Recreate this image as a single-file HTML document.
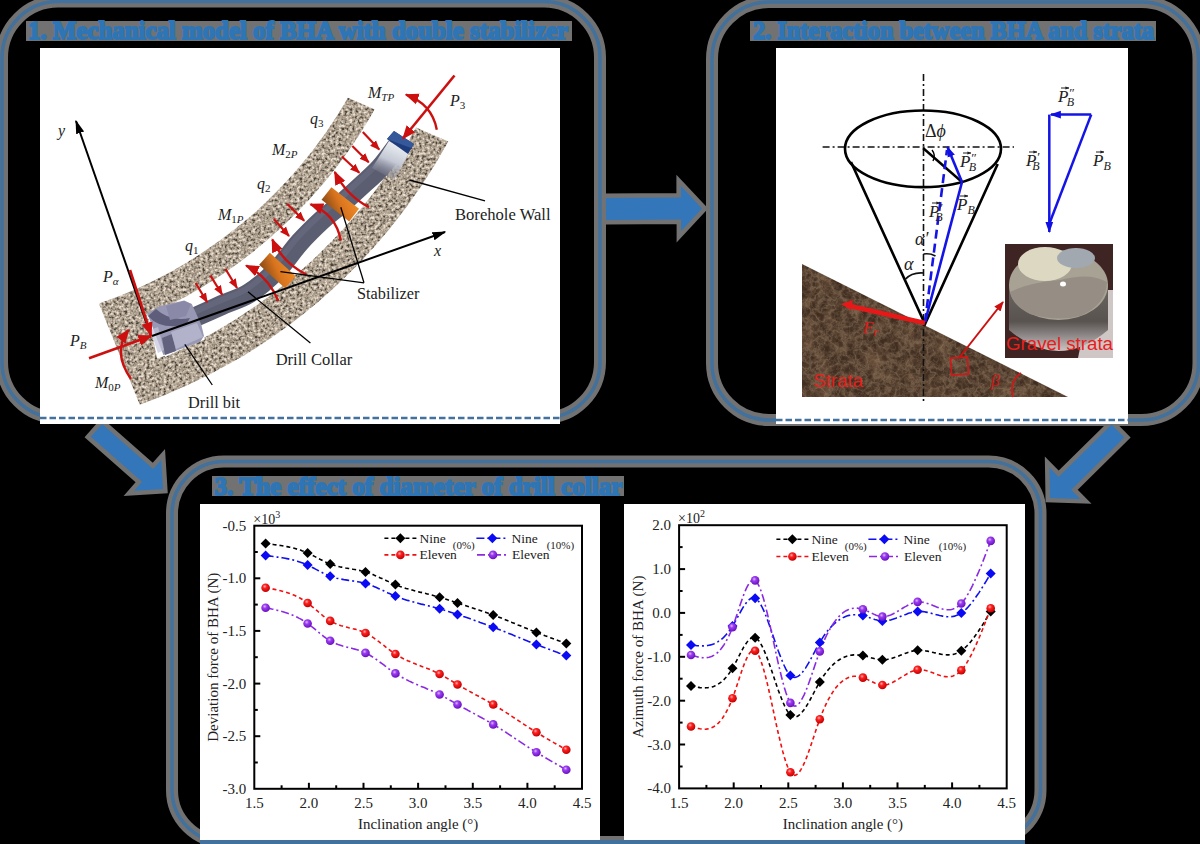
<!DOCTYPE html>
<html><head><meta charset="utf-8"><style>
html,body{margin:0;padding:0;background:#000;width:1200px;height:844px;overflow:hidden}
svg{display:block}
</style></head><body>
<svg width="1200" height="844" viewBox="0 0 1200 844">
<rect width="1200" height="844" fill="#000"/>
<defs>
<filter id="granite" filterUnits="userSpaceOnUse" x="90" y="90" width="370" height="320" color-interpolation-filters="sRGB">
  <feTurbulence type="fractalNoise" baseFrequency="0.36" numOctaves="2" seed="5" result="n"/>
  <feColorMatrix in="n" type="matrix" values="1 0 0 0 0  1 0 0 0 0  1 0 0 0 0  0 0 0 0 1" result="g"/>
  <feComponentTransfer in="g" result="g2">
    <feFuncR type="linear" slope="2.0" intercept="-0.5"/><feFuncG type="linear" slope="2.0" intercept="-0.5"/><feFuncB type="linear" slope="2.0" intercept="-0.5"/>
  </feComponentTransfer>
  <feComponentTransfer in="g2" result="c">
    <feFuncR type="table" tableValues="0.30 0.48 0.61 0.69 0.76 0.84 0.93"/>
    <feFuncG type="table" tableValues="0.27 0.44 0.56 0.64 0.71 0.79 0.89"/>
    <feFuncB type="table" tableValues="0.23 0.39 0.50 0.57 0.64 0.73 0.84"/>
  </feComponentTransfer>
  <feComposite in="c" in2="SourceAlpha" operator="in"/>
</filter>
<filter id="marble" filterUnits="userSpaceOnUse" x="800" y="260" width="270" height="140" color-interpolation-filters="sRGB">
  <feTurbulence type="fractalNoise" baseFrequency="0.06" numOctaves="2" seed="4" result="n2"/>
  <feColorMatrix in="n2" type="matrix" values="0 0 0 0 0.40  0 0 0 0 0.30  0 0 0 0 0.22  2.4 0 0 0 -1.1" result="v2"/>
  <feComposite in="v2" in2="SourceGraphic" operator="atop" result="b2"/>
  <feTurbulence type="fractalNoise" baseFrequency="0.09" numOctaves="4" seed="21" result="n"/>
  <feColorMatrix in="n" type="matrix" values="0 0 0 0 0.66  0 0 0 0 0.56  0 0 0 0 0.45  1 0 0 0 0" result="v"/>
  <feComponentTransfer in="v" result="vv"><feFuncA type="table" tableValues="0 0 0 0.02 0.1 0.38 0.12 0.02 0 0 0"/></feComponentTransfer>
  <feComposite in="vv" in2="b2" operator="atop" result="b3"/>
  <feTurbulence type="fractalNoise" baseFrequency="0.16" numOctaves="3" seed="8" result="m"/>
  <feColorMatrix in="m" type="matrix" values="0 0 0 0 0.62  0 0 0 0 0.52  0 0 0 0 0.42  1 0 0 0 0" result="w"/>
  <feComponentTransfer in="w" result="ww"><feFuncA type="table" tableValues="0 0 0 0 0.05 0.25 0.05 0 0 0 0"/></feComponentTransfer>
  <feComposite in="ww" in2="b3" operator="atop"/>
</filter>
<linearGradient id="orange" x1="0" y1="0" x2="1" y2="1">
  <stop offset="0" stop-color="#8a4a16"/><stop offset="0.5" stop-color="#d8741e"/><stop offset="1" stop-color="#f08a28"/>
</linearGradient>
<radialGradient id="redball" cx="0.4" cy="0.35" r="0.65">
  <stop offset="0" stop-color="#ffb0b0"/><stop offset="0.35" stop-color="#ff2020"/><stop offset="1" stop-color="#c00000"/>
</radialGradient>
<radialGradient id="purpball" cx="0.4" cy="0.35" r="0.65">
  <stop offset="0" stop-color="#e0b8ff"/><stop offset="0.35" stop-color="#9a3cf0"/><stop offset="1" stop-color="#6a10c0"/>
</radialGradient>
<linearGradient id="capg" x1="0" y1="0" x2="1" y2="0">
  <stop offset="0" stop-color="#2a4a8a"/><stop offset="1" stop-color="#1a3060"/>
</linearGradient>
<linearGradient id="cyl" x1="0" y1="0" x2="1" y2="0">
  <stop offset="0" stop-color="#5a5a60"/><stop offset="0.4" stop-color="#8a8a8e"/><stop offset="0.8" stop-color="#a09a98"/><stop offset="1" stop-color="#c8b8b8"/>
</linearGradient>
<marker id="ahR" viewBox="0 0 10 10" refX="9" refY="5" markerWidth="14" markerHeight="14" markerUnits="userSpaceOnUse" orient="auto"><path d="M0,1 L10,5 L0,9 Z" fill="#cc1010"/></marker>
<marker id="ahRs" viewBox="0 0 10 10" refX="9" refY="5" markerWidth="10" markerHeight="10" markerUnits="userSpaceOnUse" orient="auto"><path d="M0,1 L10,5 L0,9 Z" fill="#cc1010"/></marker>
<marker id="ahK" viewBox="0 0 10 10" refX="9" refY="5" markerWidth="14" markerHeight="14" markerUnits="userSpaceOnUse" orient="auto"><path d="M0,2 L10,5 L0,8 Z" fill="#000"/></marker>
<marker id="ahB" viewBox="0 0 10 10" refX="9" refY="5" markerWidth="11" markerHeight="11" markerUnits="userSpaceOnUse" orient="auto"><path d="M0,1.5 L10,5 L0,8.5 Z" fill="#1010e0"/></marker>
</defs>
<path d="M58,1.5 H544 A56,56 0 0 1 600,57.5 V362 A56,56 0 0 1 544,418 H58 A56,56 0 0 1 2,362 V57.5 A56,56 0 0 1 58,1.5 Z" fill="none" stroke="#727272" stroke-width="12"/>
<path d="M769,2 H1141.5 A57,57 0 0 1 1198.5,59 V363 A57,57 0 0 1 1141.5,420 H769 A57,57 0 0 1 712,363 V59 A57,57 0 0 1 769,2 Z" fill="none" stroke="#727272" stroke-width="12"/>
<path d="M224,461.5 H988.5 A52,52 0 0 1 1040.5,513.5 V790 A52,52 0 0 1 988.5,842 H224 A52,52 0 0 1 172,790 V513.5 A52,52 0 0 1 224,461.5 Z" fill="none" stroke="#727272" stroke-width="12"/>
<path d="M606.1,220 L681.1,219.6 L681.1,231.1 L702,208.5 L680.9,186.1 L680.9,197.6 L605.9,198 Z" fill="#727272" stroke="#727272" stroke-width="9" stroke-linejoin="miter"/>
<path d="M90.9,436.8 L142,481.8 L134.1,490.8 L163,489 L161.2,460.1 L153.2,469.1 L102.1,424 Z" fill="#727272" stroke="#727272" stroke-width="9" stroke-linejoin="miter"/>
<path d="M1111.7,424.6 L1058.6,476.9 L1049.5,467.6 L1050,498 L1080.4,498.9 L1071.3,489.7 L1124.3,437.4 Z" fill="#727272" stroke="#727272" stroke-width="9" stroke-linejoin="miter"/>
<rect x="26" y="21" width="546" height="20" fill="#727272"/>
<rect x="750" y="21" width="406" height="20" fill="#727272"/>
<rect x="212" y="476" width="412" height="20" fill="#727272"/>
<path d="M58,1.5 H544 A56,56 0 0 1 600,57.5 V362 A56,56 0 0 1 544,418 H58 A56,56 0 0 1 2,362 V57.5 A56,56 0 0 1 58,1.5 Z" fill="none" stroke="#41719c" stroke-width="3.5"/>
<path d="M769,2 H1141.5 A57,57 0 0 1 1198.5,59 V363 A57,57 0 0 1 1141.5,420 H769 A57,57 0 0 1 712,363 V59 A57,57 0 0 1 769,2 Z" fill="none" stroke="#41719c" stroke-width="3.5"/>
<path d="M224,461.5 H988.5 A52,52 0 0 1 1040.5,513.5 V790 A52,52 0 0 1 988.5,842 H224 A52,52 0 0 1 172,790 V513.5 A52,52 0 0 1 224,461.5 Z" fill="none" stroke="#41719c" stroke-width="3.5"/>
<path d="M606.1,220 L681.1,219.6 L681.1,231.1 L702,208.5 L680.9,186.1 L680.9,197.6 L605.9,198 Z" fill="#3476ba"/>
<path d="M90.9,436.8 L142,481.8 L134.1,490.8 L163,489 L161.2,460.1 L153.2,469.1 L102.1,424 Z" fill="#3476ba"/>
<path d="M1111.7,424.6 L1058.6,476.9 L1049.5,467.6 L1050,498 L1080.4,498.9 L1071.3,489.7 L1124.3,437.4 Z" fill="#3476ba"/>
<rect x="40" y="48" width="520" height="376" fill="#fff"/>
<rect x="776" y="48" width="352" height="376" fill="#fff"/>
<rect x="200" y="504" width="400" height="340" fill="#fff"/>
<rect x="624" y="504" width="401" height="340" fill="#fff"/>
<line x1="40" y1="418" x2="560" y2="418" stroke="#41719c" stroke-width="2.6" stroke-dasharray="6.5,3"/>
<line x1="776" y1="420" x2="1128" y2="420" stroke="#41719c" stroke-width="2.6" stroke-dasharray="6.5,3"/>
<line x1="200" y1="842" x2="1025" y2="842" stroke="#41719c" stroke-width="4"/>
<text x="28" y="39" font-family="Liberation Serif" font-weight="bold" font-size="25" fill="#2e75b6" stroke="#2e75b6" stroke-width="1.8" textLength="540" lengthAdjust="spacingAndGlyphs">1. Mechanical model of BHA with double stabilizer</text>
<text x="753" y="39" font-family="Liberation Serif" font-weight="bold" font-size="25" fill="#2e75b6" stroke="#2e75b6" stroke-width="1.8" textLength="401" lengthAdjust="spacingAndGlyphs">2. Interaction between BHA and strata</text>
<text x="214.5" y="494.5" font-family="Liberation Serif" font-weight="bold" font-size="25" fill="#2e75b6" stroke="#2e75b6" stroke-width="1.8" textLength="408" lengthAdjust="spacingAndGlyphs">3. The effect of diameter of drill collar</text>
<path d="M139.8,404.7 A567,567 0 0 0 448.3,141.6 L347.9,97.8 A458,458 0 0 1 98.9,303.5 Z" fill="#b3a99c" filter="url(#granite)"/>
<path d="M165.2,357 A532,532 0 0 0 419.4,121.6 L379.7,100.3 A487,487 0 0 1 147,315.8 Z" fill="#fff"/>
<path d="M147.7,313.3 L157.2,358.8 L205,339.6 L188.4,300.2 Z" fill="#fff"/>
<path d="M193,318 C197.8,315.8 212.6,309.2 222,305 C231.4,300.8 240.3,298.8 249.5,293 C258.7,287.2 268.6,278.5 277,270 C285.4,261.5 292.5,250.3 300,242 C307.5,233.7 315.3,226.2 322,220 C328.7,213.8 333.5,210.7 340,205 C346.5,199.3 354.3,192.2 361,186 C367.7,179.8 374,174.7 380,168 C386,161.3 394.2,149.7 397,146" fill="none" stroke="#5b5d70" stroke-width="20"/>
<path d="M190,314 C194.8,311.8 209.6,305.2 219,301 C228.4,296.8 237.3,294.8 246.5,289 C255.7,283.2 265.6,274.5 274,266 C282.4,257.5 289.5,246.3 297,238 C304.5,229.7 312.3,222.2 319,216 C325.7,209.8 330.5,206.7 337,201 C343.5,195.3 351.3,188.2 358,182 C364.7,175.8 371,170.7 377,164 C383,157.3 391.2,145.7 394,142" fill="none" stroke="#6e7086" stroke-width="6" opacity="0.5"/>
<defs><linearGradient id="tubetop" x1="0" y1="1" x2="0.4" y2="0"><stop offset="0" stop-color="#5b5d70" stop-opacity="0"/><stop offset="0.6" stop-color="#c4c8d4"/><stop offset="1" stop-color="#e8ecf0"/></linearGradient></defs>
<path d="M372,168 L389,141 L409,153 L394,180 Z" fill="url(#tubetop)"/>
<path d="M387,139 L394,131 L414,144 L408,154 Z" fill="#1e3c7c"/>
<path d="M387,139 L394,131 L414,144 L411,148 Z" fill="#35589a"/>
<path d="M147.3,313.4 L160,306 L184.2,300.6 L191.8,303.9 L201.3,324.8 L204,336 L200.3,341.8 L174.8,351.3 L163.4,355 L152,325.7 Z" fill="#9898b4"/>
<path d="M148,316 Q160,330 186,325 L190,318 Q170,322 156,309 Z" fill="#5e5e7a"/>
<path d="M162,338 L172,334 L176,351 L165,355 Z" fill="#62627e"/>
<path d="M171,332 L197,323 L203,337 L176,349 Z" fill="#b2b2ca"/>
<path d="M166,306 L184,301 L191,304 L186,316 L170,320 Z" fill="#8a8aa8"/>
<path d="M150,330 L158,327 L164,350 L158,353 Z" fill="#c4c4dc" opacity="0.7"/>
<rect x="-8" y="-17.5" width="16" height="35" fill="url(#orange)" transform="translate(277.5,270.5) rotate(-48)"/>
<rect x="-8" y="-17.5" width="16" height="35" fill="url(#orange)" transform="translate(340.3,204.3) rotate(-52)"/>
<line x1="195.6" y1="283" x2="207.2" y2="302.2" stroke="#cc1010" stroke-width="2.2" marker-end="url(#ahRs)"/>
<line x1="210.5" y1="275.6" x2="222.2" y2="294.7" stroke="#cc1010" stroke-width="2.2" marker-end="url(#ahRs)"/>
<line x1="225.5" y1="269" x2="237" y2="288" stroke="#cc1010" stroke-width="2.2" marker-end="url(#ahRs)"/>
<line x1="273.8" y1="218.9" x2="289" y2="236" stroke="#cc1010" stroke-width="2.2" marker-end="url(#ahRs)"/>
<line x1="287.1" y1="203.7" x2="304.2" y2="220.8" stroke="#cc1010" stroke-width="2.2" marker-end="url(#ahRs)"/>
<line x1="341.8" y1="156.5" x2="359.3" y2="172.8" stroke="#cc1010" stroke-width="2.2" marker-end="url(#ahRs)"/>
<line x1="352.3" y1="146" x2="368.7" y2="162.3" stroke="#cc1010" stroke-width="2.2" marker-end="url(#ahRs)"/>
<line x1="362.8" y1="132" x2="379.2" y2="149.5" stroke="#cc1010" stroke-width="2.2" marker-end="url(#ahRs)"/>
<path d="M278.4,301 Q268,276 246.2,265.7" fill="none" stroke="#cc1010" stroke-width="2.4" marker-end="url(#ahR)"/>
<path d="M306.6,274.8 Q282,262 272.3,239.5" fill="none" stroke="#cc1010" stroke-width="2.4" marker-end="url(#ahR)"/>
<path d="M340.8,240.5 Q336,214 310.6,204.3" fill="none" stroke="#cc1010" stroke-width="2.4" marker-end="url(#ahR)"/>
<path d="M369,207.3 Q346,195 334.8,172" fill="none" stroke="#cc1010" stroke-width="2.4" marker-end="url(#ahR)"/>
<path d="M436.8,129.7 Q432,104 406,94.7" fill="none" stroke="#cc1010" stroke-width="2.4" marker-end="url(#ahR)"/>
<path d="M131,379 Q112,352 128.5,330" fill="none" stroke="#cc1010" stroke-width="2.4" marker-end="url(#ahR)"/>
<line x1="151" y1="336" x2="76" y2="121" stroke="#000" stroke-width="2" marker-end="url(#ahK)"/>
<line x1="152" y1="336" x2="445" y2="232" stroke="#000" stroke-width="2" marker-end="url(#ahK)"/>
<line x1="130" y1="270" x2="151" y2="335" stroke="#cc1010" stroke-width="2.6" marker-end="url(#ahR)"/>
<line x1="89" y1="358.3" x2="151" y2="336" stroke="#cc1010" stroke-width="2.6" marker-end="url(#ahR)"/>
<line x1="454.5" y1="75.5" x2="403" y2="138.5" stroke="#cc1010" stroke-width="2.6" marker-end="url(#ahR)"/>
<line x1="409.5" y1="180" x2="485" y2="200.8" stroke="#000" stroke-width="1.3"/>
<line x1="364" y1="282.8" x2="280.4" y2="271.7" stroke="#000" stroke-width="1.3"/>
<line x1="364" y1="282.8" x2="340.8" y2="207.3" stroke="#000" stroke-width="1.3"/>
<line x1="248" y1="291.8" x2="310.4" y2="343" stroke="#000" stroke-width="1.3"/>
<line x1="184.8" y1="344.4" x2="212.3" y2="385" stroke="#000" stroke-width="1.3"/>
<text x="58" y="136" font-family="Liberation Serif" font-style="italic" font-size="16" fill="#222">y</text>
<text x="368" y="98" font-family="Liberation Serif" font-style="italic" font-size="16" fill="#222">M<tspan font-size="11" dy="3">T</tspan><tspan font-size="11" dy="0">P</tspan></text>
<text x="450" y="106" font-family="Liberation Serif" font-style="italic" font-size="16" fill="#222">P<tspan font-size="11" dy="3" font-style="normal">3</tspan></text>
<text x="310" y="124" font-family="Liberation Serif" font-style="italic" font-size="16" fill="#222">q<tspan font-size="11" dy="3" font-style="normal">3</tspan></text>
<text x="272" y="155" font-family="Liberation Serif" font-style="italic" font-size="16" fill="#222">M<tspan font-size="11" dy="3" font-style="normal">2</tspan><tspan font-size="11" dy="0">P</tspan></text>
<text x="257" y="189" font-family="Liberation Serif" font-style="italic" font-size="16" fill="#222">q<tspan font-size="11" dy="3" font-style="normal">2</tspan></text>
<text x="218" y="220" font-family="Liberation Serif" font-style="italic" font-size="16" fill="#222">M<tspan font-size="11" dy="3" font-style="normal">1</tspan><tspan font-size="11" dy="0">P</tspan></text>
<text x="185" y="251" font-family="Liberation Serif" font-style="italic" font-size="16" fill="#222">q<tspan font-size="11" dy="3" font-style="normal">1</tspan></text>
<text x="103" y="282" font-family="Liberation Serif" font-style="italic" font-size="16" fill="#222">P<tspan font-size="11" dy="3">α</tspan></text>
<text x="70" y="346" font-family="Liberation Serif" font-style="italic" font-size="16" fill="#222">P<tspan font-size="11" dy="3">B</tspan></text>
<text x="95" y="388" font-family="Liberation Serif" font-style="italic" font-size="16" fill="#222">M<tspan font-size="11" dy="3" font-style="normal">0</tspan><tspan font-size="11" dy="0">P</tspan></text>
<text x="434" y="256" font-family="Liberation Serif" font-style="italic" font-size="16" fill="#222">x</text>
<text x="455" y="219.5" font-family="Liberation Serif" font-size="16.5" fill="#222" textLength="95.6" lengthAdjust="spacingAndGlyphs">Borehole Wall</text>
<text x="357" y="299" font-family="Liberation Serif" font-size="16.5" fill="#222" textLength="62.3" lengthAdjust="spacingAndGlyphs">Stabilizer</text>
<text x="275.7" y="365" font-family="Liberation Serif" font-size="16.5" fill="#222">Drill Collar</text>
<text x="188" y="408" font-family="Liberation Serif" font-size="16.5" fill="#222" textLength="52" lengthAdjust="spacingAndGlyphs">Drill bit</text>
<path d="M802,264 L802,397 L1068,397 Z" fill="#3e2b1e" filter="url(#marble)"/>
<line x1="923.5" y1="74" x2="923.5" y2="403" stroke="#111" stroke-width="1.6" stroke-dasharray="7,3,2,3"/>
<line x1="822.6" y1="147" x2="1014" y2="147" stroke="#111" stroke-width="1.6" stroke-dasharray="7,3,2,3"/>
<ellipse cx="923" cy="148.8" rx="78" ry="38.3" fill="none" stroke="#000" stroke-width="2.6"/>
<path d="M851,162 L925,324 L997.7,164" fill="none" stroke="#000" stroke-width="2.6" stroke-linejoin="miter"/>
<line x1="923" y1="148" x2="962" y2="182" stroke="#000" stroke-width="2.4"/>
<path d="M932,150 Q936,155 933,161" fill="none" stroke="#000" stroke-width="1.4"/>
<line x1="925" y1="322" x2="962" y2="182" stroke="#1414e6" stroke-width="2.6"/>
<line x1="962" y1="182" x2="947.5" y2="147" stroke="#1414e6" stroke-width="2.6" marker-end="url(#ahB)"/>
<line x1="925" y1="322" x2="947" y2="150" stroke="#1414e6" stroke-width="2.6" stroke-dasharray="9,5"/>
<path d="M904.8,279.6 Q912,272 923.5,273" fill="none" stroke="#111" stroke-width="1.6"/>
<path d="M923.5,254 Q930,253 935.5,256" fill="none" stroke="#111" stroke-width="1.6"/>
<line x1="925" y1="323" x2="850" y2="306" stroke="#e81818" stroke-width="4.5"/>
<path d="M841,304 L853,300 L851,310 Z" fill="#e81818"/>
<rect x="951" y="357.5" width="17" height="17" fill="none" stroke="#d01818" stroke-width="1.6" transform="rotate(-4 960 366)"/>
<line x1="959" y1="358" x2="1003" y2="302" stroke="#cc1010" stroke-width="2" marker-end="url(#ahRs)"/>
<path d="M1021,373 Q1009,381 1013,397" fill="none" stroke="#d01818" stroke-width="1.8"/>
<line x1="1091.2" y1="114.6" x2="1051" y2="114.6" stroke="#1414e6" stroke-width="2.5" marker-end="url(#ahB)"/>
<line x1="1049.3" y1="114.6" x2="1049.3" y2="232" stroke="#1414e6" stroke-width="2.5" marker-end="url(#ahB)"/>
<line x1="1091.2" y1="114.6" x2="1050" y2="222" stroke="#1414e6" stroke-width="2.5"/>
<defs><linearGradient id="body" x1="0" y1="0" x2="0" y2="1"><stop offset="0" stop-color="#6a6560"/><stop offset="0.55" stop-color="#58534f"/><stop offset="0.75" stop-color="#8a8484"/><stop offset="1" stop-color="#cfc4c2"/></linearGradient></defs>
<rect x="1005" y="244" width="108" height="114" fill="#3e2422"/>
<path d="M1092,290 L1113,290 L1113,358 L1078,358 Z" fill="#cfc6c6"/>
<path d="M1009,285 L1009,330 Q1058.5,372 1108,330 L1108,285 Z" fill="url(#body)"/>
<ellipse cx="1058.5" cy="285" rx="49.5" ry="35" fill="#a8a294"/>
<ellipse cx="1045" cy="264" rx="27" ry="17" fill="#dcd8c2"/>
<ellipse cx="1076" cy="258" rx="19" ry="10" fill="#a2a8b0"/>
<path d="M1010,292 Q1030,282 1060,280 Q1090,272 1107,282 Q1106,305 1080,316 Q1058,322 1030,314 Q1012,305 1010,292 Z" fill="#968e84"/>
<ellipse cx="1063" cy="284" rx="3" ry="2.5" fill="#fff"/>
<defs><marker id="ahK2" viewBox="0 0 10 10" refX="9" refY="5" markerWidth="4" markerHeight="4" markerUnits="userSpaceOnUse" orient="auto"><path d="M0,1 L10,5 L0,9 Z" fill="#222"/></marker></defs>
<text x="1058" y="102" font-family="Liberation Serif" font-style="italic" font-size="17" fill="#222">P<tspan font-size="13" dy="-5" dx="0">″</tspan><tspan font-size="12" dy="9" dx="-7">B</tspan></text><line x1="1061" y1="88" x2="1069" y2="88" stroke="#222" stroke-width="1" marker-end="url(#ahK2)"/>
<text x="1026" y="166" font-family="Liberation Serif" font-style="italic" font-size="17" fill="#222">P<tspan font-size="13" dy="-5" dx="0">′</tspan><tspan font-size="12" dy="9" dx="-7">B</tspan></text><line x1="1029" y1="152" x2="1037" y2="152" stroke="#222" stroke-width="1" marker-end="url(#ahK2)"/>
<text x="1093" y="166" font-family="Liberation Serif" font-style="italic" font-size="17" fill="#222">P<tspan font-size="12" dy="4">B</tspan></text><line x1="1096" y1="152" x2="1104" y2="152" stroke="#222" stroke-width="1" marker-end="url(#ahK2)"/>
<text x="960" y="167" font-family="Liberation Serif" font-style="italic" font-size="17" fill="#222">P<tspan font-size="13" dy="-5" dx="0">″</tspan><tspan font-size="12" dy="9" dx="-7">B</tspan></text><line x1="963" y1="153" x2="971" y2="153" stroke="#222" stroke-width="1" marker-end="url(#ahK2)"/>
<text x="957" y="210" font-family="Liberation Serif" font-style="italic" font-size="17" fill="#222">P<tspan font-size="12" dy="4">B</tspan></text><line x1="960" y1="196" x2="968" y2="196" stroke="#222" stroke-width="1" marker-end="url(#ahK2)"/>
<text x="929" y="217" font-family="Liberation Serif" font-style="italic" font-size="17" fill="#222">P<tspan font-size="13" dy="-5" dx="0">′</tspan><tspan font-size="12" dy="9" dx="-7">B</tspan></text><line x1="932" y1="203" x2="940" y2="203" stroke="#222" stroke-width="1" marker-end="url(#ahK2)"/>
<text x="925" y="137" font-family="Liberation Serif" font-size="18" fill="#222">Δ<tspan font-style="italic">ϕ</tspan></text>
<text x="904" y="270" font-family="Liberation Serif" font-style="italic" font-size="18" fill="#222">α</text>
<text x="915" y="245" font-family="Liberation Serif" font-style="italic" font-size="18" fill="#222">α′</text>
<text x="863" y="333" font-family="Liberation Serif" font-style="italic" font-size="17" fill="#e01818">F<tspan font-size="12" dy="3">r</tspan></text>
<text x="813.5" y="386.5" font-family="Liberation Sans" font-size="18.5" fill="#e8201c" textLength="49.5" lengthAdjust="spacingAndGlyphs">Strata</text>
<text x="1006" y="350" font-family="Liberation Sans" font-size="18.7" fill="#e8201c" textLength="107" lengthAdjust="spacingAndGlyphs">Gravel strata</text>
<text x="991" y="386" font-family="Liberation Serif" font-style="italic" font-size="17" fill="#d01818">β</text>
<path d="M265.6,543.6 L267.1,543.8 L268.6,543.9 L270.1,544.1 L271.6,544.3 L273.2,544.5 L274.7,544.7 L276.2,544.9 L277.7,545.1 L279.2,545.3 L280.7,545.5 L282.2,545.7 L283.7,546.0 L285.2,546.3 L286.8,546.6 L288.3,546.9 L289.8,547.2 L291.3,547.5 L292.8,547.9 L294.3,548.3 L295.8,548.7 L297.3,549.2 L298.8,549.6 L300.4,550.1 L301.9,550.7 L303.4,551.2 L304.9,551.8 L306.4,552.5 L307.9,553.1 L309.4,553.8 L310.9,554.6 L312.4,555.3 L314.0,556.1 L315.5,556.9 L317.0,557.7 L318.5,558.5 L320.0,559.3 L321.5,560.0 L323.0,560.8 L324.5,561.5 L326.0,562.2 L327.6,562.9 L329.1,563.6 L330.6,564.1 L332.1,564.7 L333.6,565.2 L335.1,565.6 L336.6,566.1 L338.1,566.4 L339.6,566.8 L341.2,567.1 L342.7,567.4 L344.2,567.7 L345.7,568.0 L347.2,568.2 L348.7,568.5 L350.2,568.7 L351.7,569.0 L353.2,569.3 L354.8,569.5 L356.3,569.8 L357.8,570.1 L359.3,570.4 L360.8,570.8 L362.3,571.1 L363.8,571.5 L365.3,571.9 L366.8,572.4 L368.4,572.9 L369.9,573.5 L371.4,574.0 L372.9,574.6 L374.4,575.3 L375.9,575.9 L377.4,576.6 L378.9,577.2 L380.4,577.9 L382.0,578.6 L383.5,579.3 L385.0,580.0 L386.5,580.7 L388.0,581.4 L389.5,582.1 L391.0,582.8 L392.5,583.4 L394.0,584.0 L395.6,584.7 L397.1,585.3 L398.6,585.8 L400.1,586.4 L401.6,586.9 L403.1,587.4 L404.6,587.9 L406.1,588.4 L407.6,588.8 L409.2,589.2 L410.7,589.7 L412.2,590.1 L413.7,590.5 L415.2,590.9 L416.7,591.3 L418.2,591.7 L419.7,592.1 L421.2,592.4 L422.7,592.8 L424.3,593.2 L425.8,593.5 L427.3,593.9 L428.8,594.3 L430.3,594.7 L431.8,595.1 L433.3,595.5 L434.8,595.9 L436.3,596.3 L437.9,596.7 L439.4,597.1 L440.9,597.6 L442.4,598.0 L443.9,598.5 L445.4,599.0 L446.9,599.5 L448.4,600.0 L449.9,600.5 L451.5,601.0 L453.0,601.5 L454.5,602.0 L456.0,602.5 L457.5,603.0 L459.0,603.5 L460.5,604.0 L462.0,604.5 L463.5,605.0 L465.1,605.5 L466.6,606.0 L468.1,606.5 L469.6,607.0 L471.1,607.5 L472.6,607.9 L474.1,608.4 L475.6,608.9 L477.1,609.4 L478.7,609.9 L480.2,610.4 L481.7,610.9 L483.2,611.5 L484.7,612.0 L486.2,612.5 L487.7,613.0 L489.2,613.6 L490.7,614.1 L492.3,614.7 L493.8,615.2 L495.3,615.8 L496.8,616.3 L498.3,616.9 L499.8,617.5 L501.3,618.1 L502.8,618.7 L504.3,619.3 L505.9,619.9 L507.4,620.5 L508.9,621.1 L510.4,621.7 L511.9,622.4 L513.4,623.0 L514.9,623.6 L516.4,624.2 L517.9,624.9 L519.5,625.5 L521.0,626.1 L522.5,626.7 L524.0,627.4 L525.5,628.0 L527.0,628.6 L528.5,629.2 L530.0,629.8 L531.5,630.5 L533.1,631.1 L534.6,631.7 L536.1,632.3 L537.6,632.9 L539.1,633.5 L540.6,634.0 L542.1,634.6 L543.6,635.2 L545.1,635.8 L546.7,636.3 L548.2,636.9 L549.7,637.5 L551.2,638.0 L552.7,638.6 L554.2,639.1 L555.7,639.7 L557.2,640.2 L558.7,640.8 L560.3,641.3 L561.8,641.9 L563.3,642.4 L564.8,643.0 L566.3,643.5" fill="none" stroke="#000" stroke-width="1.6" stroke-dasharray="4,3"/>
<path d="M265.6,555.6 L267.1,555.8 L268.6,555.9 L270.1,556.1 L271.6,556.3 L273.2,556.5 L274.7,556.7 L276.2,556.9 L277.7,557.1 L279.2,557.3 L280.7,557.5 L282.2,557.7 L283.7,558.0 L285.2,558.3 L286.8,558.6 L288.3,558.9 L289.8,559.2 L291.3,559.6 L292.8,559.9 L294.3,560.3 L295.8,560.8 L297.3,561.2 L298.8,561.7 L300.4,562.2 L301.9,562.7 L303.4,563.3 L304.9,563.9 L306.4,564.6 L307.9,565.2 L309.4,566.0 L310.9,566.7 L312.4,567.5 L314.0,568.3 L315.5,569.1 L317.0,569.9 L318.5,570.7 L320.0,571.5 L321.5,572.2 L323.0,573.0 L324.5,573.7 L326.0,574.5 L327.6,575.1 L329.1,575.8 L330.6,576.3 L332.1,576.9 L333.6,577.3 L335.1,577.8 L336.6,578.2 L338.1,578.5 L339.6,578.9 L341.2,579.1 L342.7,579.4 L344.2,579.7 L345.7,579.9 L347.2,580.1 L348.7,580.4 L350.2,580.6 L351.7,580.8 L353.2,581.0 L354.8,581.2 L356.3,581.5 L357.8,581.7 L359.3,582.0 L360.8,582.3 L362.3,582.7 L363.8,583.0 L365.3,583.5 L366.8,583.9 L368.4,584.4 L369.9,584.9 L371.4,585.5 L372.9,586.1 L374.4,586.7 L375.9,587.3 L377.4,588.0 L378.9,588.7 L380.4,589.4 L382.0,590.0 L383.5,590.7 L385.0,591.5 L386.5,592.2 L388.0,592.9 L389.5,593.5 L391.0,594.2 L392.5,594.9 L394.0,595.5 L395.6,596.2 L397.1,596.8 L398.6,597.3 L400.1,597.9 L401.6,598.4 L403.1,598.9 L404.6,599.4 L406.1,599.9 L407.6,600.4 L409.2,600.8 L410.7,601.3 L412.2,601.7 L413.7,602.1 L415.2,602.5 L416.7,602.9 L418.2,603.3 L419.7,603.7 L421.2,604.1 L422.7,604.4 L424.3,604.8 L425.8,605.2 L427.3,605.6 L428.8,605.9 L430.3,606.3 L431.8,606.7 L433.3,607.1 L434.8,607.5 L436.3,607.9 L437.9,608.3 L439.4,608.7 L440.9,609.2 L442.4,609.6 L443.9,610.1 L445.4,610.5 L446.9,611.0 L448.4,611.5 L449.9,612.0 L451.5,612.5 L453.0,613.0 L454.5,613.5 L456.0,614.0 L457.5,614.5 L459.0,615.0 L460.5,615.5 L462.0,616.0 L463.5,616.6 L465.1,617.1 L466.6,617.6 L468.1,618.1 L469.6,618.6 L471.1,619.2 L472.6,619.7 L474.1,620.2 L475.6,620.7 L477.1,621.3 L478.7,621.8 L480.2,622.4 L481.7,622.9 L483.2,623.5 L484.7,624.0 L486.2,624.6 L487.7,625.1 L489.2,625.7 L490.7,626.3 L492.3,626.8 L493.8,627.4 L495.3,628.0 L496.8,628.6 L498.3,629.2 L499.8,629.8 L501.3,630.4 L502.8,631.0 L504.3,631.6 L505.9,632.2 L507.4,632.8 L508.9,633.4 L510.4,634.0 L511.9,634.6 L513.4,635.3 L514.9,635.9 L516.4,636.5 L517.9,637.1 L519.5,637.7 L521.0,638.3 L522.5,638.9 L524.0,639.6 L525.5,640.2 L527.0,640.8 L528.5,641.4 L530.0,642.0 L531.5,642.6 L533.1,643.2 L534.6,643.8 L536.1,644.4 L537.6,645.0 L539.1,645.5 L540.6,646.1 L542.1,646.7 L543.6,647.3 L545.1,647.8 L546.7,648.4 L548.2,649.0 L549.7,649.5 L551.2,650.1 L552.7,650.6 L554.2,651.2 L555.7,651.8 L557.2,652.3 L558.7,652.9 L560.3,653.4 L561.8,654.0 L563.3,654.5 L564.8,655.1 L566.3,655.6" fill="none" stroke="#1010f0" stroke-width="1.6" stroke-dasharray="8,3,2,3"/>
<path d="M265.6,587.7 L267.1,588.0 L268.6,588.2 L270.1,588.5 L271.6,588.8 L273.2,589.1 L274.7,589.4 L276.2,589.7 L277.7,590.0 L279.2,590.4 L280.7,590.8 L282.2,591.2 L283.7,591.6 L285.2,592.0 L286.8,592.5 L288.3,593.0 L289.8,593.5 L291.3,594.1 L292.8,594.7 L294.3,595.3 L295.8,596.0 L297.3,596.7 L298.8,597.5 L300.4,598.3 L301.9,599.2 L303.4,600.1 L304.9,601.1 L306.4,602.1 L307.9,603.2 L309.4,604.4 L310.9,605.6 L312.4,606.8 L314.0,608.1 L315.5,609.4 L317.0,610.7 L318.5,612.0 L320.0,613.3 L321.5,614.5 L323.0,615.8 L324.5,616.9 L326.0,618.1 L327.6,619.2 L329.1,620.2 L330.6,621.1 L332.1,622.0 L333.6,622.7 L335.1,623.4 L336.6,624.1 L338.1,624.7 L339.6,625.2 L341.2,625.7 L342.7,626.1 L344.2,626.5 L345.7,626.9 L347.2,627.3 L348.7,627.7 L350.2,628.0 L351.7,628.4 L353.2,628.8 L354.8,629.1 L356.3,629.6 L357.8,630.0 L359.3,630.5 L360.8,631.0 L362.3,631.6 L363.8,632.2 L365.3,632.9 L366.8,633.7 L368.4,634.5 L369.9,635.4 L371.4,636.4 L372.9,637.4 L374.4,638.4 L375.9,639.5 L377.4,640.6 L378.9,641.7 L380.4,642.9 L382.0,644.1 L383.5,645.2 L385.0,646.4 L386.5,647.6 L388.0,648.7 L389.5,649.9 L391.0,651.0 L392.5,652.0 L394.0,653.1 L395.6,654.1 L397.1,655.1 L398.6,656.0 L400.1,656.8 L401.6,657.7 L403.1,658.5 L404.6,659.2 L406.1,660.0 L407.6,660.7 L409.2,661.3 L410.7,662.0 L412.2,662.6 L413.7,663.2 L415.2,663.8 L416.7,664.4 L418.2,665.0 L419.7,665.6 L421.2,666.2 L422.7,666.8 L424.3,667.3 L425.8,667.9 L427.3,668.5 L428.8,669.1 L430.3,669.7 L431.8,670.4 L433.3,671.0 L434.8,671.7 L436.3,672.4 L437.9,673.1 L439.4,673.9 L440.9,674.7 L442.4,675.5 L443.9,676.3 L445.4,677.2 L446.9,678.1 L448.4,679.0 L449.9,679.9 L451.5,680.8 L453.0,681.8 L454.5,682.7 L456.0,683.6 L457.5,684.5 L459.0,685.4 L460.5,686.3 L462.0,687.1 L463.5,688.0 L465.1,688.9 L466.6,689.7 L468.1,690.5 L469.6,691.4 L471.1,692.2 L472.6,693.0 L474.1,693.8 L475.6,694.7 L477.1,695.5 L478.7,696.3 L480.2,697.1 L481.7,698.0 L483.2,698.8 L484.7,699.6 L486.2,700.5 L487.7,701.3 L489.2,702.2 L490.7,703.1 L492.3,703.9 L493.8,704.8 L495.3,705.7 L496.8,706.7 L498.3,707.6 L499.8,708.5 L501.3,709.5 L502.8,710.4 L504.3,711.4 L505.9,712.4 L507.4,713.4 L508.9,714.3 L510.4,715.3 L511.9,716.3 L513.4,717.3 L514.9,718.3 L516.4,719.3 L517.9,720.3 L519.5,721.3 L521.0,722.3 L522.5,723.3 L524.0,724.3 L525.5,725.3 L527.0,726.3 L528.5,727.3 L530.0,728.3 L531.5,729.2 L533.1,730.2 L534.6,731.2 L536.1,732.1 L537.6,733.0 L539.1,734.0 L540.6,734.9 L542.1,735.8 L543.6,736.7 L545.1,737.6 L546.7,738.5 L548.2,739.4 L549.7,740.3 L551.2,741.1 L552.7,742.0 L554.2,742.9 L555.7,743.7 L557.2,744.6 L558.7,745.5 L560.3,746.3 L561.8,747.2 L563.3,748.0 L564.8,748.9 L566.3,749.7" fill="none" stroke="#f01010" stroke-width="1.6" stroke-dasharray="4,3"/>
<path d="M265.6,607.7 L267.1,608.0 L268.6,608.3 L270.1,608.6 L271.6,609.0 L273.2,609.3 L274.7,609.6 L276.2,610.0 L277.7,610.4 L279.2,610.7 L280.7,611.1 L282.2,611.6 L283.7,612.0 L285.2,612.5 L286.8,613.0 L288.3,613.5 L289.8,614.0 L291.3,614.6 L292.8,615.2 L294.3,615.9 L295.8,616.6 L297.3,617.3 L298.8,618.1 L300.4,618.9 L301.9,619.8 L303.4,620.7 L304.9,621.6 L306.4,622.7 L307.9,623.7 L309.4,624.8 L310.9,626.0 L312.4,627.2 L314.0,628.4 L315.5,629.7 L317.0,630.9 L318.5,632.2 L320.0,633.4 L321.5,634.6 L323.0,635.8 L324.5,637.0 L326.0,638.1 L327.6,639.1 L329.1,640.1 L330.6,641.0 L332.1,641.8 L333.6,642.6 L335.1,643.3 L336.6,643.9 L338.1,644.5 L339.6,645.0 L341.2,645.5 L342.7,646.0 L344.2,646.4 L345.7,646.8 L347.2,647.2 L348.7,647.5 L350.2,647.9 L351.7,648.3 L353.2,648.7 L354.8,649.1 L356.3,649.5 L357.8,649.9 L359.3,650.4 L360.8,650.9 L362.3,651.5 L363.8,652.1 L365.3,652.8 L366.8,653.6 L368.4,654.4 L369.9,655.3 L371.4,656.2 L372.9,657.1 L374.4,658.1 L375.9,659.2 L377.4,660.3 L378.9,661.4 L380.4,662.5 L382.0,663.6 L383.5,664.7 L385.0,665.9 L386.5,667.0 L388.0,668.2 L389.5,669.3 L391.0,670.4 L392.5,671.4 L394.0,672.5 L395.6,673.5 L397.1,674.5 L398.6,675.4 L400.1,676.3 L401.6,677.2 L403.1,678.0 L404.6,678.8 L406.1,679.6 L407.6,680.3 L409.2,681.1 L410.7,681.8 L412.2,682.5 L413.7,683.1 L415.2,683.8 L416.7,684.4 L418.2,685.1 L419.7,685.7 L421.2,686.4 L422.7,687.0 L424.3,687.6 L425.8,688.2 L427.3,688.9 L428.8,689.5 L430.3,690.2 L431.8,690.8 L433.3,691.5 L434.8,692.2 L436.3,692.9 L437.9,693.6 L439.4,694.4 L440.9,695.2 L442.4,696.0 L443.9,696.8 L445.4,697.6 L446.9,698.4 L448.4,699.3 L449.9,700.2 L451.5,701.0 L453.0,701.9 L454.5,702.8 L456.0,703.6 L457.5,704.5 L459.0,705.4 L460.5,706.2 L462.0,707.0 L463.5,707.9 L465.1,708.7 L466.6,709.5 L468.1,710.4 L469.6,711.2 L471.1,712.0 L472.6,712.8 L474.1,713.6 L475.6,714.5 L477.1,715.3 L478.7,716.1 L480.2,717.0 L481.7,717.8 L483.2,718.6 L484.7,719.5 L486.2,720.3 L487.7,721.2 L489.2,722.1 L490.7,722.9 L492.3,723.8 L493.8,724.7 L495.3,725.7 L496.8,726.6 L498.3,727.5 L499.8,728.5 L501.3,729.4 L502.8,730.4 L504.3,731.4 L505.9,732.3 L507.4,733.3 L508.9,734.3 L510.4,735.3 L511.9,736.3 L513.4,737.3 L514.9,738.3 L516.4,739.3 L517.9,740.3 L519.5,741.3 L521.0,742.3 L522.5,743.3 L524.0,744.3 L525.5,745.3 L527.0,746.3 L528.5,747.3 L530.0,748.3 L531.5,749.2 L533.1,750.2 L534.6,751.2 L536.1,752.1 L537.6,753.0 L539.1,754.0 L540.6,754.9 L542.1,755.8 L543.6,756.7 L545.1,757.6 L546.7,758.5 L548.2,759.4 L549.7,760.3 L551.2,761.1 L552.7,762.0 L554.2,762.9 L555.7,763.7 L557.2,764.6 L558.7,765.5 L560.3,766.3 L561.8,767.2 L563.3,768.0 L564.8,768.9 L566.3,769.7" fill="none" stroke="#8a2be2" stroke-width="1.6" stroke-dasharray="8,3,2,3"/>
<path d="M265.6,538.6 L270.6,543.6 L265.6,548.6 L260.6,543.6 Z" fill="#000"/>
<path d="M307.6,548.0 L312.6,553.0 L307.6,558.0 L302.6,553.0 Z" fill="#000"/>
<path d="M330.2,559.0 L335.2,564.0 L330.2,569.0 L325.2,564.0 Z" fill="#000"/>
<path d="M365.5,567.0 L370.5,572.0 L365.5,577.0 L360.5,572.0 Z" fill="#000"/>
<path d="M395.4,579.6 L400.4,584.6 L395.4,589.6 L390.4,584.6 Z" fill="#000"/>
<path d="M439.6,592.2 L444.6,597.2 L439.6,602.2 L434.6,597.2 Z" fill="#000"/>
<path d="M457.5,598.0 L462.5,603.0 L457.5,608.0 L452.5,603.0 Z" fill="#000"/>
<path d="M493.2,610.0 L498.2,615.0 L493.2,620.0 L488.2,615.0 Z" fill="#000"/>
<path d="M536.4,627.4 L541.4,632.4 L536.4,637.4 L531.4,632.4 Z" fill="#000"/>
<path d="M566.3,638.5 L571.3,643.5 L566.3,648.5 L561.3,643.5 Z" fill="#000"/>
<path d="M265.6,550.6 L270.6,555.6 L265.6,560.6 L260.6,555.6 Z" fill="#0a0af5"/>
<path d="M307.6,560.1 L312.6,565.1 L307.6,570.1 L302.6,565.1 Z" fill="#0a0af5"/>
<path d="M330.2,571.2 L335.2,576.2 L330.2,581.2 L325.2,576.2 Z" fill="#0a0af5"/>
<path d="M365.5,578.5 L370.5,583.5 L365.5,588.5 L360.5,583.5 Z" fill="#0a0af5"/>
<path d="M395.4,591.1 L400.4,596.1 L395.4,601.1 L390.4,596.1 Z" fill="#0a0af5"/>
<path d="M439.6,603.8 L444.6,608.8 L439.6,613.8 L434.6,608.8 Z" fill="#0a0af5"/>
<path d="M457.5,609.5 L462.5,614.5 L457.5,619.5 L452.5,614.5 Z" fill="#0a0af5"/>
<path d="M493.2,622.2 L498.2,627.2 L493.2,632.2 L488.2,627.2 Z" fill="#0a0af5"/>
<path d="M536.4,639.5 L541.4,644.5 L536.4,649.5 L531.4,644.5 Z" fill="#0a0af5"/>
<path d="M566.3,650.6 L571.3,655.6 L566.3,660.6 L561.3,655.6 Z" fill="#0a0af5"/>
<circle cx="265.6" cy="587.7" r="4.3" fill="url(#redball)"/>
<circle cx="307.6" cy="603.0" r="4.3" fill="url(#redball)"/>
<circle cx="330.2" cy="620.9" r="4.3" fill="url(#redball)"/>
<circle cx="365.5" cy="633.0" r="4.3" fill="url(#redball)"/>
<circle cx="395.4" cy="654.0" r="4.3" fill="url(#redball)"/>
<circle cx="439.6" cy="674.0" r="4.3" fill="url(#redball)"/>
<circle cx="457.5" cy="684.5" r="4.3" fill="url(#redball)"/>
<circle cx="493.2" cy="704.5" r="4.3" fill="url(#redball)"/>
<circle cx="536.4" cy="732.3" r="4.3" fill="url(#redball)"/>
<circle cx="566.3" cy="749.7" r="4.3" fill="url(#redball)"/>
<circle cx="265.6" cy="607.7" r="4.3" fill="url(#purpball)"/>
<circle cx="307.6" cy="623.5" r="4.3" fill="url(#purpball)"/>
<circle cx="330.2" cy="640.8" r="4.3" fill="url(#purpball)"/>
<circle cx="365.5" cy="652.9" r="4.3" fill="url(#purpball)"/>
<circle cx="395.4" cy="673.4" r="4.3" fill="url(#purpball)"/>
<circle cx="439.6" cy="694.5" r="4.3" fill="url(#purpball)"/>
<circle cx="457.5" cy="704.5" r="4.3" fill="url(#purpball)"/>
<circle cx="493.2" cy="724.4" r="4.3" fill="url(#purpball)"/>
<circle cx="536.4" cy="752.3" r="4.3" fill="url(#purpball)"/>
<circle cx="566.3" cy="769.7" r="4.3" fill="url(#purpball)"/>
<rect x="254.3" y="525.7" width="327.7" height="263.1" fill="none" stroke="#000" stroke-width="2"/>
<text x="254.3" y="808" text-anchor="middle" font-family="Liberation Serif" font-size="15" fill="#222">1.5</text>
<line x1="281.6" y1="788.8" x2="281.6" y2="785.3" stroke="#000" stroke-width="2"/>
<line x1="308.9" y1="788.8" x2="308.9" y2="782.8" stroke="#000" stroke-width="2"/>
<text x="308.9" y="808" text-anchor="middle" font-family="Liberation Serif" font-size="15" fill="#222">2.0</text>
<line x1="336.2" y1="788.8" x2="336.2" y2="785.3" stroke="#000" stroke-width="2"/>
<line x1="363.5" y1="788.8" x2="363.5" y2="782.8" stroke="#000" stroke-width="2"/>
<text x="363.5" y="808" text-anchor="middle" font-family="Liberation Serif" font-size="15" fill="#222">2.5</text>
<line x1="390.8" y1="788.8" x2="390.8" y2="785.3" stroke="#000" stroke-width="2"/>
<line x1="418.1" y1="788.8" x2="418.1" y2="782.8" stroke="#000" stroke-width="2"/>
<text x="418.1" y="808" text-anchor="middle" font-family="Liberation Serif" font-size="15" fill="#222">3.0</text>
<line x1="445.5" y1="788.8" x2="445.5" y2="785.3" stroke="#000" stroke-width="2"/>
<line x1="472.8" y1="788.8" x2="472.8" y2="782.8" stroke="#000" stroke-width="2"/>
<text x="472.8" y="808" text-anchor="middle" font-family="Liberation Serif" font-size="15" fill="#222">3.5</text>
<line x1="500.1" y1="788.8" x2="500.1" y2="785.3" stroke="#000" stroke-width="2"/>
<line x1="527.4" y1="788.8" x2="527.4" y2="782.8" stroke="#000" stroke-width="2"/>
<text x="527.4" y="808" text-anchor="middle" font-family="Liberation Serif" font-size="15" fill="#222">4.0</text>
<line x1="554.7" y1="788.8" x2="554.7" y2="785.3" stroke="#000" stroke-width="2"/>
<text x="582.0" y="808" text-anchor="middle" font-family="Liberation Serif" font-size="15" fill="#222">4.5</text>
<text x="246.3" y="530.7" text-anchor="end" font-family="Liberation Serif" font-size="15" fill="#222">-0.5</text>
<line x1="254.3" y1="552.0" x2="257.8" y2="552.0" stroke="#000" stroke-width="2"/>
<line x1="254.3" y1="578.3" x2="260.3" y2="578.3" stroke="#000" stroke-width="2"/>
<text x="246.3" y="583.3" text-anchor="end" font-family="Liberation Serif" font-size="15" fill="#222">-1.0</text>
<line x1="254.3" y1="604.6" x2="257.8" y2="604.6" stroke="#000" stroke-width="2"/>
<line x1="254.3" y1="630.9" x2="260.3" y2="630.9" stroke="#000" stroke-width="2"/>
<text x="246.3" y="635.9" text-anchor="end" font-family="Liberation Serif" font-size="15" fill="#222">-1.5</text>
<line x1="254.3" y1="657.2" x2="257.8" y2="657.2" stroke="#000" stroke-width="2"/>
<line x1="254.3" y1="683.6" x2="260.3" y2="683.6" stroke="#000" stroke-width="2"/>
<text x="246.3" y="688.6" text-anchor="end" font-family="Liberation Serif" font-size="15" fill="#222">-2.0</text>
<line x1="254.3" y1="709.9" x2="257.8" y2="709.9" stroke="#000" stroke-width="2"/>
<line x1="254.3" y1="736.2" x2="260.3" y2="736.2" stroke="#000" stroke-width="2"/>
<text x="246.3" y="741.2" text-anchor="end" font-family="Liberation Serif" font-size="15" fill="#222">-2.5</text>
<line x1="254.3" y1="762.5" x2="257.8" y2="762.5" stroke="#000" stroke-width="2"/>
<text x="246.3" y="793.8" text-anchor="end" font-family="Liberation Serif" font-size="15" fill="#222">-3.0</text>
<text x="253.3" y="523.7" font-family="Liberation Serif" font-size="14" fill="#222">×10<tspan font-size="10" dy="-6">3</tspan></text>
<text transform="translate(218,657.2) rotate(-90)" text-anchor="middle" font-family="Liberation Serif" font-size="15" fill="#222">Deviation force of BHA (N)</text>
<text x="418.1" y="829" text-anchor="middle" font-family="Liberation Serif" font-size="14.9" fill="#222">Inclination angle (°)</text>
<line x1="384.4" y1="538.2" x2="416.4" y2="538.2" stroke="#000" stroke-width="1.6" stroke-dasharray="4,3"/><path d="M400.4,533.2 L405.4,538.2 L400.4,543.2 L395.4,538.2 Z" fill="#000"/><text x="419.4" y="542.7" font-family="Liberation Serif" font-size="13.5" fill="#222">Nine</text><text x="452.79999999999995" y="548.8000000000001" font-family="Liberation Serif" font-size="11" fill="#222">(0%)</text>
<line x1="476.4" y1="538.2" x2="508.4" y2="538.2" stroke="#1010f0" stroke-width="1.6" stroke-dasharray="8,3,2,3"/><path d="M492.4,533.2 L497.4,538.2 L492.4,543.2 L487.4,538.2 Z" fill="#0a0af5"/><text x="511.4" y="542.7" font-family="Liberation Serif" font-size="13.5" fill="#222">Nine</text><text x="546.7" y="548.8000000000001" font-family="Liberation Serif" font-size="11" fill="#222">(10%)</text>
<line x1="384.4" y1="554.9" x2="416.4" y2="554.9" stroke="#f01010" stroke-width="1.6" stroke-dasharray="4,3"/><circle cx="400.4" cy="554.9" r="4.3" fill="url(#redball)"/><text x="419.4" y="559.4" font-family="Liberation Serif" font-size="13.5" fill="#222">Eleven</text>
<line x1="477.0" y1="554.9" x2="509.0" y2="554.9" stroke="#8a2be2" stroke-width="1.6" stroke-dasharray="8,3,2,3"/><circle cx="493.0" cy="554.9" r="4.3" fill="url(#purpball)"/><text x="512.0" y="559.4" font-family="Liberation Serif" font-size="13.5" fill="#222">Eleven</text>
<path d="M691.0,686.0 L692.5,686.3 L694.0,686.6 L695.5,686.9 L697.0,687.2 L698.5,687.4 L700.0,687.6 L701.5,687.7 L703.0,687.8 L704.6,687.9 L706.1,687.8 L707.6,687.7 L709.1,687.5 L710.6,687.3 L712.1,686.9 L713.6,686.4 L715.1,685.8 L716.6,685.1 L718.1,684.2 L719.6,683.2 L721.1,682.1 L722.6,680.8 L724.1,679.4 L725.6,677.8 L727.1,676.0 L728.7,674.1 L730.2,671.9 L731.7,669.6 L733.2,667.0 L734.7,664.3 L736.2,661.5 L737.7,658.5 L739.2,655.6 L740.7,652.7 L742.2,649.9 L743.7,647.2 L745.2,644.8 L746.7,642.6 L748.2,640.7 L749.7,639.2 L751.2,638.1 L752.7,637.5 L754.3,637.5 L755.8,638.0 L757.3,639.1 L758.8,640.8 L760.3,643.0 L761.8,645.7 L763.3,648.7 L764.8,652.1 L766.3,655.8 L767.8,659.7 L769.3,663.9 L770.8,668.2 L772.3,672.6 L773.8,677.0 L775.3,681.5 L776.8,685.9 L778.3,690.2 L779.9,694.4 L781.4,698.3 L782.9,702.0 L784.4,705.4 L785.9,708.5 L787.4,711.1 L788.9,713.3 L790.4,715.0 L791.9,716.2 L793.4,716.8 L794.9,717.0 L796.4,716.7 L797.9,716.0 L799.4,714.9 L800.9,713.5 L802.4,711.8 L804.0,709.8 L805.5,707.6 L807.0,705.2 L808.5,702.7 L810.0,700.0 L811.5,697.2 L813.0,694.4 L814.5,691.5 L816.0,688.7 L817.5,685.9 L819.0,683.3 L820.5,680.7 L822.0,678.3 L823.5,676.0 L825.0,673.9 L826.5,671.9 L828.0,670.0 L829.6,668.2 L831.1,666.6 L832.6,665.1 L834.1,663.7 L835.6,662.4 L837.1,661.3 L838.6,660.2 L840.1,659.3 L841.6,658.4 L843.1,657.7 L844.6,657.0 L846.1,656.4 L847.6,656.0 L849.1,655.6 L850.6,655.3 L852.1,655.1 L853.7,654.9 L855.2,654.9 L856.7,654.9 L858.2,655.0 L859.7,655.1 L861.2,655.3 L862.7,655.6 L864.2,655.9 L865.7,656.2 L867.2,656.6 L868.7,657.0 L870.2,657.5 L871.7,657.9 L873.2,658.3 L874.7,658.7 L876.2,659.0 L877.7,659.3 L879.3,659.6 L880.8,659.7 L882.3,659.8 L883.8,659.8 L885.3,659.7 L886.8,659.5 L888.3,659.2 L889.8,658.9 L891.3,658.5 L892.8,658.0 L894.3,657.5 L895.8,657.0 L897.3,656.4 L898.8,655.9 L900.3,655.3 L901.8,654.7 L903.4,654.1 L904.9,653.5 L906.4,653.0 L907.9,652.4 L909.4,652.0 L910.9,651.5 L912.4,651.1 L913.9,650.8 L915.4,650.5 L916.9,650.4 L918.4,650.3 L919.9,650.2 L921.4,650.3 L922.9,650.4 L924.4,650.6 L925.9,650.9 L927.4,651.1 L929.0,651.5 L930.5,651.8 L932.0,652.2 L933.5,652.5 L935.0,652.9 L936.5,653.2 L938.0,653.6 L939.5,653.9 L941.0,654.2 L942.5,654.5 L944.0,654.7 L945.5,654.8 L947.0,654.9 L948.5,654.9 L950.0,654.8 L951.5,654.6 L953.0,654.4 L954.6,654.0 L956.1,653.5 L957.6,652.9 L959.1,652.2 L960.6,651.3 L962.1,650.2 L963.6,649.1 L965.1,647.7 L966.6,646.3 L968.1,644.7 L969.6,643.0 L971.1,641.2 L972.6,639.3 L974.1,637.3 L975.6,635.2 L977.1,633.1 L978.7,630.8 L980.2,628.5 L981.7,626.2 L983.2,623.8 L984.7,621.4 L986.2,618.9 L987.7,616.4 L989.2,613.9 L990.7,611.4" fill="none" stroke="#000" stroke-width="1.6" stroke-dasharray="4,3"/>
<path d="M691.0,645.0 L692.5,645.2 L694.0,645.4 L695.5,645.5 L697.0,645.7 L698.5,645.8 L700.0,645.9 L701.5,645.9 L703.0,645.9 L704.6,645.8 L706.1,645.7 L707.6,645.5 L709.1,645.2 L710.6,644.9 L712.1,644.4 L713.6,643.9 L715.1,643.3 L716.6,642.5 L718.1,641.6 L719.6,640.6 L721.1,639.5 L722.6,638.3 L724.1,636.9 L725.6,635.3 L727.1,633.6 L728.7,631.7 L730.2,629.6 L731.7,627.4 L733.2,625.0 L734.7,622.4 L736.2,619.7 L737.7,617.0 L739.2,614.2 L740.7,611.5 L742.2,608.9 L743.7,606.4 L745.2,604.2 L746.7,602.2 L748.2,600.5 L749.7,599.2 L751.2,598.3 L752.7,597.8 L754.3,597.9 L755.8,598.6 L757.3,599.8 L758.8,601.6 L760.3,603.8 L761.8,606.5 L763.3,609.6 L764.8,613.0 L766.3,616.8 L767.8,620.7 L769.3,624.9 L770.8,629.2 L772.3,633.5 L773.8,638.0 L775.3,642.4 L776.8,646.7 L778.3,651.0 L779.9,655.1 L781.4,659.0 L782.9,662.7 L784.4,666.0 L785.9,669.1 L787.4,671.7 L788.9,673.8 L790.4,675.5 L791.9,676.6 L793.4,677.3 L794.9,677.4 L796.4,677.1 L797.9,676.4 L799.4,675.4 L800.9,674.0 L802.4,672.3 L804.0,670.3 L805.5,668.1 L807.0,665.7 L808.5,663.2 L810.0,660.5 L811.5,657.7 L813.0,654.9 L814.5,652.1 L816.0,649.2 L817.5,646.5 L819.0,643.8 L820.5,641.2 L822.0,638.8 L823.5,636.4 L825.0,634.3 L826.5,632.2 L828.0,630.3 L829.6,628.5 L831.1,626.9 L832.6,625.3 L834.1,623.9 L835.6,622.6 L837.1,621.4 L838.6,620.3 L840.1,619.3 L841.6,618.4 L843.1,617.6 L844.6,616.9 L846.1,616.3 L847.6,615.8 L849.1,615.4 L850.6,615.1 L852.1,614.9 L853.7,614.8 L855.2,614.7 L856.7,614.7 L858.2,614.8 L859.7,615.0 L861.2,615.2 L862.7,615.6 L864.2,615.9 L865.7,616.4 L867.2,616.8 L868.7,617.3 L870.2,617.9 L871.7,618.4 L873.2,618.9 L874.7,619.4 L876.2,619.8 L877.7,620.2 L879.3,620.5 L880.8,620.8 L882.3,620.9 L883.8,620.9 L885.3,620.9 L886.8,620.7 L888.3,620.5 L889.8,620.1 L891.3,619.8 L892.8,619.3 L894.3,618.8 L895.8,618.3 L897.3,617.7 L898.8,617.1 L900.3,616.5 L901.8,615.9 L903.4,615.3 L904.9,614.7 L906.4,614.2 L907.9,613.6 L909.4,613.1 L910.9,612.7 L912.4,612.2 L913.9,611.9 L915.4,611.6 L916.9,611.5 L918.4,611.4 L919.9,611.4 L921.4,611.4 L922.9,611.6 L924.4,611.8 L925.9,612.1 L927.4,612.4 L929.0,612.7 L930.5,613.1 L932.0,613.5 L933.5,613.9 L935.0,614.3 L936.5,614.7 L938.0,615.1 L939.5,615.5 L941.0,615.8 L942.5,616.1 L944.0,616.4 L945.5,616.6 L947.0,616.7 L948.5,616.8 L950.0,616.7 L951.5,616.6 L953.0,616.4 L954.6,616.1 L956.1,615.6 L957.6,615.0 L959.1,614.3 L960.6,613.5 L962.1,612.5 L963.6,611.3 L965.1,610.0 L966.6,608.6 L968.1,607.0 L969.6,605.3 L971.1,603.5 L972.6,601.6 L974.1,599.6 L975.6,597.5 L977.1,595.3 L978.7,593.1 L980.2,590.8 L981.7,588.4 L983.2,586.0 L984.7,583.5 L986.2,581.1 L987.7,578.6 L989.2,576.0 L990.7,573.5" fill="none" stroke="#1010f0" stroke-width="1.6" stroke-dasharray="8,3,2,3"/>
<path d="M691.0,726.5 L692.5,727.0 L694.0,727.4 L695.5,727.8 L697.0,728.2 L698.5,728.5 L700.0,728.8 L701.5,729.0 L703.0,729.1 L704.6,729.2 L706.1,729.1 L707.6,728.9 L709.1,728.6 L710.6,728.1 L712.1,727.5 L713.6,726.7 L715.1,725.8 L716.6,724.7 L718.1,723.3 L719.6,721.8 L721.1,720.0 L722.6,718.0 L724.1,715.7 L725.6,713.2 L727.1,710.4 L728.7,707.4 L730.2,704.0 L731.7,700.4 L733.2,696.4 L734.7,692.1 L736.2,687.7 L737.7,683.1 L739.2,678.5 L740.7,674.0 L742.2,669.6 L743.7,665.5 L745.2,661.7 L746.7,658.3 L748.2,655.4 L749.7,653.0 L751.2,651.4 L752.7,650.5 L754.3,650.4 L755.8,651.3 L757.3,653.1 L758.8,655.8 L760.3,659.3 L761.8,663.4 L763.3,668.2 L764.8,673.6 L766.3,679.4 L767.8,685.6 L769.3,692.2 L770.8,698.9 L772.3,705.9 L773.8,712.9 L775.3,719.8 L776.8,726.8 L778.3,733.5 L779.9,740.0 L781.4,746.2 L782.9,752.0 L784.4,757.3 L785.9,762.1 L787.4,766.2 L788.9,769.7 L790.4,772.3 L791.9,774.1 L793.4,775.0 L794.9,775.3 L796.4,774.8 L797.9,773.6 L799.4,771.9 L800.9,769.6 L802.4,766.9 L804.0,763.7 L805.5,760.2 L807.0,756.4 L808.5,752.3 L810.0,748.0 L811.5,743.6 L813.0,739.1 L814.5,734.5 L816.0,730.0 L817.5,725.6 L819.0,721.4 L820.5,717.3 L822.0,713.4 L823.5,709.8 L825.0,706.4 L826.5,703.2 L828.0,700.2 L829.6,697.4 L831.1,694.8 L832.6,692.4 L834.1,690.2 L835.6,688.1 L837.1,686.3 L838.6,684.6 L840.1,683.1 L841.6,681.8 L843.1,680.6 L844.6,679.5 L846.1,678.7 L847.6,677.9 L849.1,677.3 L850.6,676.9 L852.1,676.5 L853.7,676.3 L855.2,676.3 L856.7,676.3 L858.2,676.4 L859.7,676.7 L861.2,677.1 L862.7,677.5 L864.2,678.1 L865.7,678.7 L867.2,679.4 L868.7,680.1 L870.2,680.9 L871.7,681.6 L873.2,682.3 L874.7,683.0 L876.2,683.6 L877.7,684.1 L879.3,684.5 L880.8,684.8 L882.3,685.0 L883.8,685.0 L885.3,684.9 L886.8,684.6 L888.3,684.2 L889.8,683.6 L891.3,683.0 L892.8,682.3 L894.3,681.5 L895.8,680.7 L897.3,679.8 L898.8,678.9 L900.3,677.9 L901.8,677.0 L903.4,676.0 L904.9,675.1 L906.4,674.2 L907.9,673.4 L909.4,672.6 L910.9,671.8 L912.4,671.2 L913.9,670.7 L915.4,670.2 L916.9,669.9 L918.4,669.7 L919.9,669.7 L921.4,669.7 L922.9,669.9 L924.4,670.2 L925.9,670.6 L927.4,671.0 L929.0,671.5 L930.5,672.0 L932.0,672.5 L933.5,673.1 L935.0,673.7 L936.5,674.2 L938.0,674.8 L939.5,675.3 L941.0,675.7 L942.5,676.1 L944.0,676.4 L945.5,676.6 L947.0,676.8 L948.5,676.8 L950.0,676.6 L951.5,676.4 L953.0,675.9 L954.6,675.3 L956.1,674.6 L957.6,673.6 L959.1,672.4 L960.6,671.0 L962.1,669.4 L963.6,667.6 L965.1,665.5 L966.6,663.2 L968.1,660.7 L969.6,658.0 L971.1,655.2 L972.6,652.2 L974.1,649.0 L975.6,645.8 L977.1,642.4 L978.7,638.8 L980.2,635.2 L981.7,631.5 L983.2,627.8 L984.7,623.9 L986.2,620.0 L987.7,616.1 L989.2,612.2 L990.7,608.2" fill="none" stroke="#f01010" stroke-width="1.6" stroke-dasharray="4,3"/>
<path d="M691.0,655.0 L692.5,655.5 L694.0,655.9 L695.5,656.3 L697.0,656.7 L698.5,657.1 L700.0,657.4 L701.5,657.6 L703.0,657.7 L704.6,657.8 L706.1,657.7 L707.6,657.5 L709.1,657.2 L710.6,656.8 L712.1,656.2 L713.6,655.4 L715.1,654.5 L716.6,653.4 L718.1,652.1 L719.6,650.5 L721.1,648.8 L722.6,646.8 L724.1,644.6 L725.6,642.1 L727.1,639.3 L728.7,636.3 L730.2,633.0 L731.7,629.4 L733.2,625.4 L734.7,621.2 L736.2,616.8 L737.7,612.3 L739.2,607.7 L740.7,603.2 L742.2,598.9 L743.7,594.8 L745.2,591.0 L746.7,587.7 L748.2,584.8 L749.7,582.5 L751.2,580.9 L752.7,580.0 L754.3,580.0 L755.8,580.9 L757.3,582.8 L758.8,585.5 L760.3,589.0 L761.8,593.2 L763.3,598.0 L764.8,603.4 L766.3,609.3 L767.8,615.5 L769.3,622.1 L770.8,628.9 L772.3,635.8 L773.8,642.9 L775.3,649.9 L776.8,656.8 L778.3,663.6 L779.9,670.2 L781.4,676.5 L782.9,682.3 L784.4,687.7 L785.9,692.5 L787.4,696.7 L788.9,700.2 L790.4,702.9 L791.9,704.8 L793.4,705.8 L794.9,706.1 L796.4,705.7 L797.9,704.6 L799.4,703.0 L800.9,700.8 L802.4,698.2 L804.0,695.1 L805.5,691.7 L807.0,688.0 L808.5,684.0 L810.0,679.8 L811.5,675.4 L813.0,671.0 L814.5,666.5 L816.0,662.1 L817.5,657.8 L819.0,653.5 L820.5,649.5 L822.0,645.7 L823.5,642.1 L825.0,638.7 L826.5,635.5 L828.0,632.5 L829.6,629.7 L831.1,627.1 L832.6,624.7 L834.1,622.5 L835.6,620.4 L837.1,618.6 L838.6,616.9 L840.1,615.3 L841.6,614.0 L843.1,612.7 L844.6,611.7 L846.1,610.7 L847.6,610.0 L849.1,609.3 L850.6,608.8 L852.1,608.5 L853.7,608.2 L855.2,608.1 L856.7,608.1 L858.2,608.2 L859.7,608.5 L861.2,608.8 L862.7,609.2 L864.2,609.8 L865.7,610.4 L867.2,611.0 L868.7,611.7 L870.2,612.5 L871.7,613.2 L873.2,613.9 L874.7,614.6 L876.2,615.2 L877.7,615.7 L879.3,616.1 L880.8,616.4 L882.3,616.6 L883.8,616.6 L885.3,616.5 L886.8,616.2 L888.3,615.8 L889.8,615.3 L891.3,614.7 L892.8,614.0 L894.3,613.2 L895.8,612.4 L897.3,611.5 L898.8,610.6 L900.3,609.7 L901.8,608.8 L903.4,607.8 L904.9,606.9 L906.4,606.1 L907.9,605.2 L909.4,604.5 L910.9,603.8 L912.4,603.2 L913.9,602.7 L915.4,602.3 L916.9,602.0 L918.4,601.8 L919.9,601.8 L921.4,602.0 L922.9,602.2 L924.4,602.5 L925.9,602.9 L927.4,603.4 L929.0,603.9 L930.5,604.5 L932.0,605.1 L933.5,605.7 L935.0,606.3 L936.5,606.9 L938.0,607.5 L939.5,608.1 L941.0,608.5 L942.5,609.0 L944.0,609.3 L945.5,609.6 L947.0,609.7 L948.5,609.8 L950.0,609.7 L951.5,609.5 L953.0,609.1 L954.6,608.5 L956.1,607.7 L957.6,606.8 L959.1,605.6 L960.6,604.2 L962.1,602.6 L963.6,600.8 L965.1,598.7 L966.6,596.4 L968.1,593.9 L969.6,591.2 L971.1,588.3 L972.6,585.3 L974.1,582.1 L975.6,578.8 L977.1,575.4 L978.7,571.8 L980.2,568.2 L981.7,564.5 L983.2,560.6 L984.7,556.8 L986.2,552.8 L987.7,548.9 L989.2,544.9 L990.7,540.9" fill="none" stroke="#8a2be2" stroke-width="1.6" stroke-dasharray="8,3,2,3"/>
<path d="M691.0,681.0 L696.0,686.0 L691.0,691.0 L686.0,686.0 Z" fill="#000"/>
<path d="M732.5,663.2 L737.5,668.2 L732.5,673.2 L727.5,668.2 Z" fill="#000"/>
<path d="M755.1,632.7 L760.1,637.7 L755.1,642.7 L750.1,637.7 Z" fill="#000"/>
<path d="M790.4,710.0 L795.4,715.0 L790.4,720.0 L785.4,715.0 Z" fill="#000"/>
<path d="M819.8,676.9 L824.8,681.9 L819.8,686.9 L814.8,681.9 Z" fill="#000"/>
<path d="M862.9,650.6 L867.9,655.6 L862.9,660.6 L857.9,655.6 Z" fill="#000"/>
<path d="M882.4,654.8 L887.4,659.8 L882.4,664.8 L877.4,659.8 Z" fill="#000"/>
<path d="M917.6,645.3 L922.6,650.3 L917.6,655.3 L912.6,650.3 Z" fill="#000"/>
<path d="M961.3,645.8 L966.3,650.8 L961.3,655.8 L956.3,650.8 Z" fill="#000"/>
<path d="M990.7,606.4 L995.7,611.4 L990.7,616.4 L985.7,611.4 Z" fill="#000"/>
<path d="M691.0,640.0 L696.0,645.0 L691.0,650.0 L686.0,645.0 Z" fill="#0a0af5"/>
<path d="M732.5,621.1 L737.5,626.1 L732.5,631.1 L727.5,626.1 Z" fill="#0a0af5"/>
<path d="M755.1,593.2 L760.1,598.2 L755.1,603.2 L750.1,598.2 Z" fill="#0a0af5"/>
<path d="M790.4,670.5 L795.4,675.5 L790.4,680.5 L785.4,675.5 Z" fill="#0a0af5"/>
<path d="M819.8,637.4 L824.8,642.4 L819.8,647.4 L814.8,642.4 Z" fill="#0a0af5"/>
<path d="M862.9,610.6 L867.9,615.6 L862.9,620.6 L857.9,615.6 Z" fill="#0a0af5"/>
<path d="M882.4,615.9 L887.4,620.9 L882.4,625.9 L877.4,620.9 Z" fill="#0a0af5"/>
<path d="M917.6,606.4 L922.6,611.4 L917.6,616.4 L912.6,611.4 Z" fill="#0a0af5"/>
<path d="M961.3,608.0 L966.3,613.0 L961.3,618.0 L956.3,613.0 Z" fill="#0a0af5"/>
<path d="M990.7,568.5 L995.7,573.5 L990.7,578.5 L985.7,573.5 Z" fill="#0a0af5"/>
<circle cx="691.0" cy="726.5" r="4.3" fill="url(#redball)"/>
<circle cx="732.5" cy="698.2" r="4.3" fill="url(#redball)"/>
<circle cx="755.1" cy="650.8" r="4.3" fill="url(#redball)"/>
<circle cx="790.4" cy="772.3" r="4.3" fill="url(#redball)"/>
<circle cx="819.8" cy="719.2" r="4.3" fill="url(#redball)"/>
<circle cx="862.9" cy="677.6" r="4.3" fill="url(#redball)"/>
<circle cx="882.4" cy="685.0" r="4.3" fill="url(#redball)"/>
<circle cx="917.6" cy="669.8" r="4.3" fill="url(#redball)"/>
<circle cx="961.3" cy="670.3" r="4.3" fill="url(#redball)"/>
<circle cx="990.7" cy="608.2" r="4.3" fill="url(#redball)"/>
<circle cx="691.0" cy="655.0" r="4.3" fill="url(#purpball)"/>
<circle cx="732.5" cy="627.2" r="4.3" fill="url(#purpball)"/>
<circle cx="755.1" cy="580.4" r="4.3" fill="url(#purpball)"/>
<circle cx="790.4" cy="702.9" r="4.3" fill="url(#purpball)"/>
<circle cx="819.8" cy="651.4" r="4.3" fill="url(#purpball)"/>
<circle cx="862.9" cy="609.3" r="4.3" fill="url(#purpball)"/>
<circle cx="882.4" cy="616.6" r="4.3" fill="url(#purpball)"/>
<circle cx="917.6" cy="601.9" r="4.3" fill="url(#purpball)"/>
<circle cx="961.3" cy="603.5" r="4.3" fill="url(#purpball)"/>
<circle cx="990.7" cy="540.9" r="4.3" fill="url(#purpball)"/>
<rect x="679.1" y="525.2" width="327.6" height="263.2" fill="none" stroke="#000" stroke-width="2"/>
<text x="679.1" y="808" text-anchor="middle" font-family="Liberation Serif" font-size="15" fill="#222">1.5</text>
<line x1="706.4" y1="788.4" x2="706.4" y2="784.9" stroke="#000" stroke-width="2"/>
<line x1="733.7" y1="788.4" x2="733.7" y2="782.4" stroke="#000" stroke-width="2"/>
<text x="733.7" y="808" text-anchor="middle" font-family="Liberation Serif" font-size="15" fill="#222">2.0</text>
<line x1="761.0" y1="788.4" x2="761.0" y2="784.9" stroke="#000" stroke-width="2"/>
<line x1="788.3" y1="788.4" x2="788.3" y2="782.4" stroke="#000" stroke-width="2"/>
<text x="788.3" y="808" text-anchor="middle" font-family="Liberation Serif" font-size="15" fill="#222">2.5</text>
<line x1="815.6" y1="788.4" x2="815.6" y2="784.9" stroke="#000" stroke-width="2"/>
<line x1="842.9" y1="788.4" x2="842.9" y2="782.4" stroke="#000" stroke-width="2"/>
<text x="842.9" y="808" text-anchor="middle" font-family="Liberation Serif" font-size="15" fill="#222">3.0</text>
<line x1="870.2" y1="788.4" x2="870.2" y2="784.9" stroke="#000" stroke-width="2"/>
<line x1="897.5" y1="788.4" x2="897.5" y2="782.4" stroke="#000" stroke-width="2"/>
<text x="897.5" y="808" text-anchor="middle" font-family="Liberation Serif" font-size="15" fill="#222">3.5</text>
<line x1="924.8" y1="788.4" x2="924.8" y2="784.9" stroke="#000" stroke-width="2"/>
<line x1="952.1" y1="788.4" x2="952.1" y2="782.4" stroke="#000" stroke-width="2"/>
<text x="952.1" y="808" text-anchor="middle" font-family="Liberation Serif" font-size="15" fill="#222">4.0</text>
<line x1="979.4" y1="788.4" x2="979.4" y2="784.9" stroke="#000" stroke-width="2"/>
<text x="1006.7" y="808" text-anchor="middle" font-family="Liberation Serif" font-size="15" fill="#222">4.5</text>
<text x="671.1" y="530.2" text-anchor="end" font-family="Liberation Serif" font-size="15" fill="#222">2.0</text>
<line x1="679.1" y1="547.1" x2="682.6" y2="547.1" stroke="#000" stroke-width="2"/>
<line x1="679.1" y1="569.1" x2="685.1" y2="569.1" stroke="#000" stroke-width="2"/>
<text x="671.1" y="574.1" text-anchor="end" font-family="Liberation Serif" font-size="15" fill="#222">1.0</text>
<line x1="679.1" y1="591.0" x2="682.6" y2="591.0" stroke="#000" stroke-width="2"/>
<line x1="679.1" y1="612.9" x2="685.1" y2="612.9" stroke="#000" stroke-width="2"/>
<text x="671.1" y="617.9" text-anchor="end" font-family="Liberation Serif" font-size="15" fill="#222">0.0</text>
<line x1="679.1" y1="634.9" x2="682.6" y2="634.9" stroke="#000" stroke-width="2"/>
<line x1="679.1" y1="656.8" x2="685.1" y2="656.8" stroke="#000" stroke-width="2"/>
<text x="671.1" y="661.8" text-anchor="end" font-family="Liberation Serif" font-size="15" fill="#222">-1.0</text>
<line x1="679.1" y1="678.7" x2="682.6" y2="678.7" stroke="#000" stroke-width="2"/>
<line x1="679.1" y1="700.7" x2="685.1" y2="700.7" stroke="#000" stroke-width="2"/>
<text x="671.1" y="705.7" text-anchor="end" font-family="Liberation Serif" font-size="15" fill="#222">-2.0</text>
<line x1="679.1" y1="722.6" x2="682.6" y2="722.6" stroke="#000" stroke-width="2"/>
<line x1="679.1" y1="744.5" x2="685.1" y2="744.5" stroke="#000" stroke-width="2"/>
<text x="671.1" y="749.5" text-anchor="end" font-family="Liberation Serif" font-size="15" fill="#222">-3.0</text>
<line x1="679.1" y1="766.5" x2="682.6" y2="766.5" stroke="#000" stroke-width="2"/>
<text x="671.1" y="793.4" text-anchor="end" font-family="Liberation Serif" font-size="15" fill="#222">-4.0</text>
<text x="678.1" y="523.2" font-family="Liberation Serif" font-size="14" fill="#222">×10<tspan font-size="10" dy="-6">2</tspan></text>
<text transform="translate(642.5,656.8) rotate(-90)" text-anchor="middle" font-family="Liberation Serif" font-size="15" fill="#222">Azimuth force of BHA (N)</text>
<text x="842.9" y="829" text-anchor="middle" font-family="Liberation Serif" font-size="14.9" fill="#222">Inclination angle (°)</text>
<line x1="776.4" y1="539.2" x2="808.4" y2="539.2" stroke="#000" stroke-width="1.6" stroke-dasharray="4,3"/><path d="M792.4,534.2 L797.4,539.2 L792.4,544.2 L787.4,539.2 Z" fill="#000"/><text x="811.4" y="543.7" font-family="Liberation Serif" font-size="13.5" fill="#222">Nine</text><text x="844.8" y="549.8000000000001" font-family="Liberation Serif" font-size="11" fill="#222">(0%)</text>
<line x1="868.4" y1="539.2" x2="900.4" y2="539.2" stroke="#1010f0" stroke-width="1.6" stroke-dasharray="8,3,2,3"/><path d="M884.4,534.2 L889.4,539.2 L884.4,544.2 L879.4,539.2 Z" fill="#0a0af5"/><text x="903.4" y="543.7" font-family="Liberation Serif" font-size="13.5" fill="#222">Nine</text><text x="938.7" y="549.8000000000001" font-family="Liberation Serif" font-size="11" fill="#222">(10%)</text>
<line x1="776.4" y1="556.5" x2="808.4" y2="556.5" stroke="#f01010" stroke-width="1.6" stroke-dasharray="4,3"/><circle cx="792.4" cy="556.5" r="4.3" fill="url(#redball)"/><text x="811.4" y="561.0" font-family="Liberation Serif" font-size="13.5" fill="#222">Eleven</text>
<line x1="869.0" y1="556.5" x2="901.0" y2="556.5" stroke="#8a2be2" stroke-width="1.6" stroke-dasharray="8,3,2,3"/><circle cx="885.0" cy="556.5" r="4.3" fill="url(#purpball)"/><text x="904.0" y="561.0" font-family="Liberation Serif" font-size="13.5" fill="#222">Eleven</text>
</svg></body></html>
